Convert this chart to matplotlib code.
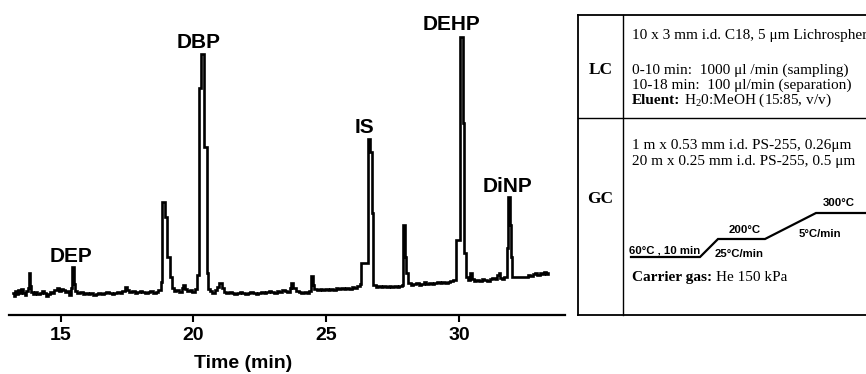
import matplotlib
matplotlib.use('Agg')
import matplotlib.pyplot as plt

plt.rcParams['font.family'] = ['Liberation Sans', 'DejaVu Sans']
plt.rcParams['mathtext.fontset'] = 'custom'
plt.rcParams['mathtext.rm'] = 'Liberation Serif'

# chromatogram trace: time (min), detector signal (a.u.)
time = [13.19, 13.24, 13.29, 13.34, 13.40, 13.46, 13.52, 13.58, 13.64, 13.70,
        13.76, 13.80, 13.84, 13.88, 13.96, 14.04, 14.12, 14.20, 14.28, 14.36,
        14.44, 14.52, 14.60, 14.68, 14.76, 14.84, 14.92, 15.00, 15.08, 15.16,
        15.24, 15.32, 15.40, 15.44, 15.49, 15.54, 15.62, 15.72, 15.82, 15.92,
        16.02, 16.12, 16.22, 16.32, 16.42, 16.52, 16.62, 16.72, 16.82, 16.92,
        17.02, 17.12, 17.22, 17.32, 17.42, 17.50, 17.58, 17.68, 17.78, 17.88,
        17.98, 18.08, 18.18, 18.28, 18.38, 18.48, 18.58, 18.68, 18.78, 18.83,
        18.91, 19.01, 19.12, 19.18, 19.26, 19.36, 19.46, 19.56, 19.62, 19.68,
        19.76, 19.86, 19.96, 20.06, 20.14, 20.20, 20.27, 20.38, 20.50, 20.55,
        20.62, 20.70, 20.80, 20.90, 20.98, 21.06, 21.14, 21.24, 21.34, 21.44,
        21.54, 21.64, 21.74, 21.84, 21.94, 22.04, 22.14, 22.24, 22.34, 22.44,
        22.54, 22.64, 22.74, 22.84, 22.94, 23.04, 23.14, 23.24, 23.34, 23.44,
        23.54, 23.62, 23.68, 23.76, 23.86, 23.96, 24.06, 24.16, 24.26, 24.36,
        24.44, 24.50, 24.56, 24.66, 24.76, 24.86, 24.96, 25.06, 25.16, 25.26,
        25.36, 25.46, 25.56, 25.66, 25.76, 25.86, 25.96, 26.06, 26.16, 26.26,
        26.32, 26.56, 26.65, 26.71, 26.77, 26.86, 26.96, 27.06, 27.16, 27.26,
        27.36, 27.46, 27.56, 27.66, 27.76, 27.86, 27.91, 27.97, 28.02, 28.08,
        28.18, 28.28, 28.38, 28.48, 28.58, 28.68, 28.78, 28.88, 28.98, 29.08,
        29.18, 29.28, 29.38, 29.48, 29.58, 29.68, 29.78, 29.88, 30.03, 30.16,
        30.21, 30.27, 30.34, 30.42, 30.48, 30.56, 30.66, 30.76, 30.86, 30.96,
        31.06, 31.16, 31.26, 31.36, 31.44, 31.50, 31.56, 31.64, 31.72, 31.80,
        31.84, 31.91, 31.96, 32.01, 32.60, 32.70, 32.80, 32.88, 32.96, 33.04,
        33.12, 33.20, 33.28, 33.37]
signal = [22, 19, 24, 21, 25, 22, 26, 22, 20, 24,
          27, 42, 29, 23, 21, 23, 21, 22, 24, 22,
          19, 21, 23, 22, 25, 27, 24, 26, 25, 23,
          24, 20, 27, 48, 31, 24, 22, 23, 21, 22,
          21, 22, 20, 21, 22, 21, 22, 23, 22, 21,
          22, 23, 22, 24, 28, 25, 23, 24, 22, 23,
          24, 23, 22, 23, 24, 22, 23, 25, 33, 113,
          98, 58, 38, 27, 24, 25, 23, 27, 30, 26,
          24, 25, 23, 26, 40, 227, 261, 168, 42, 26,
          24, 22, 25, 28, 32, 27, 23, 22, 23, 22,
          21, 22, 23, 22, 21, 22, 23, 22, 21, 22,
          23, 22, 23, 24, 23, 22, 24, 23, 25, 24,
          23, 27, 32, 27, 24, 23, 22, 23, 22, 24,
          39, 30, 26, 25, 26, 25, 26, 25, 26, 25,
          27, 26, 27, 26, 27, 26, 28, 27, 29, 31,
          52, 176, 163, 102, 30, 28, 29, 28, 29, 28,
          29, 28, 29, 28, 29, 30, 90, 58, 42, 32,
          30, 31, 32, 30, 31, 33, 31, 32, 31, 32,
          33, 32, 33, 32, 33, 34, 35, 75, 278, 192,
          62, 38, 35, 42, 36, 34, 35, 34, 36, 35,
          34, 36, 37, 36, 40, 42, 37, 36, 38, 67,
          118, 90, 58, 38, 40, 39, 41, 42, 40, 42,
          41, 43, 41, 42]

peak_names = ['DEP', 'DBP', 'IS', 'DEHP', 'DiNP']
peak_label_t = [15.39, 20.18, 26.46, 29.74, 31.85]
peak_label_y = [53, 267, 182, 285, 123]
xticks = [15, 20, 25, 30]

lc_column = '10 x 3 mm i.d. C18, 5 μm Lichrospher'
lc_flows = ['0-10 min:  1000 μl /min (sampling)',
            '10-18 min:  100 μl/min (separation)']
lc_eluent = ('Eluent:', r'H$_\mathrm{2}$0:MeOH (15:85, v/v)')
gc_columns = ['1 m x 0.53 mm i.d. PS-255, 0.26μm',
              '20 m x 0.25 mm i.d. PS-255, 0.5 μm']
gc_carrier = ('Carrier gas:', 'He 150 kPa')
oven_steps = ['60°C , 10 min', '200°C', '300°C']
oven_rates = ['25°C/min', '5°C/min']

W, H = 866, 374
fig = plt.figure(figsize=(W / 100, H / 100), dpi=100)

# chromatogram
ax = fig.add_axes([9 / W, 1 - 315 / H, 556 / W, 315 / H])
ax.plot(time, signal, color='black', lw=1.9, drawstyle='steps-post',
        solid_joinstyle='miter')
ax.set_xlim(13.05, 34.0)
ax.set_ylim(0, 315)
for s in ['left', 'right', 'top']:
    ax.spines[s].set_visible(False)
ax.spines['bottom'].set_linewidth(1.6)
ax.set_yticks([])
ax.set_xticks(xticks)
ax.tick_params(axis='x', length=5, width=1.5, pad=4, labelsize=14)
for lab in ax.get_xticklabels():
    lab.set_fontweight('bold')
ax.patch.set_visible(False)
fig.text(243.5 / W, 1 - 364 / H, 'Time (min)', ha='center', va='center',
         fontsize=14, fontweight='bold')
for name, t, y in zip(peak_names, peak_label_t, peak_label_y):
    ax.text(t, y, name, ha='center', va='baseline', fontsize=15,
            fontweight='bold')

# conditions table, drawn in pixel coordinates
tab = fig.add_axes([0, 0, 1, 1])
tab.set_xlim(0, W)
tab.set_ylim(H, 0)
tab.axis('off')
left, div, top, mid, bottom = 578, 623, 15, 118, 315
kw = dict(color='black', lw=1.3, solid_capstyle='projecting')
tab.plot([left, W], [top, top], **kw)
tab.plot([left, W], [bottom, bottom], **kw)
tab.plot([left, W], [mid, mid], lw=1.0, color='black')
tab.plot([left, left], [top, bottom], **kw)
tab.plot([div, div], [top, bottom], lw=1.0, color='black')

serif = ['Liberation Serif', 'DejaVu Serif']
size = 11
tx = 632
renderer = fig.canvas.get_renderer()


def rich(x, y, bold, rest):
    t = tab.text(x, y, bold, family=serif, fontweight='bold', fontsize=size,
                 va='baseline')
    w = t.get_window_extent(renderer=renderer).width
    tab.text(x + w + 4, y, rest, family=serif, fontsize=size, va='baseline')


tab.text((left + div) / 2, 70, 'LC', family=serif, fontweight='bold',
         fontsize=12.5, ha='center', va='center')
tab.text((left + div) / 2, 199, 'GC', family=serif, fontweight='bold',
         fontsize=12.5, ha='center', va='center')
tab.text(tx, 39, lc_column, family=serif, fontsize=size, va='baseline')
for i, line in enumerate(lc_flows):
    tab.text(tx, 74 + 15 * i, line, family=serif, fontsize=size, va='baseline')
rich(tx, 104, *lc_eluent)
for i, line in enumerate(gc_columns):
    tab.text(tx, 149 + 16 * i, line, family=serif, fontsize=size,
             va='baseline')
rich(tx, 281, *gc_carrier)

# oven temperature programme sketch
prog_x = [631, 700, 718, 765, 816, W]
prog_y = [257, 257, 239, 239, 213, 213]
tab.plot(prog_x, prog_y, color='black', lw=1.6, solid_joinstyle='miter')
lab_kw = dict(fontweight='bold', fontsize=8.2, ha='center', va='center')
tab.text(665, 250, oven_steps[0], **lab_kw)
tab.text(745, 230, oven_steps[1], **lab_kw)
tab.text(839, 203, oven_steps[2], **lab_kw)
tab.text(739, 254, oven_rates[0], **lab_kw)
tab.text(820, 234, oven_rates[1], **lab_kw)

fig.savefig('out.png', dpi=100)
